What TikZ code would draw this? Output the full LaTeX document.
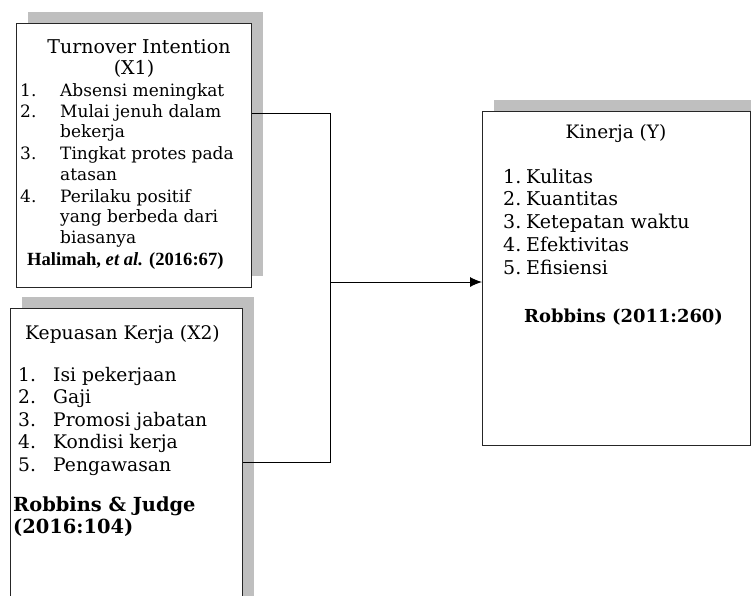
\documentclass[tikz,border=0pt]{standalone}
\usepackage{fontspec}
\setmainfont{DejaVu Serif}
\newfontfamily\reffont{Liberation Serif}
\usetikzlibrary{arrows.meta,shadows}

\tikzset{
	varbox/.style={draw=black!85, fill=white, line width=1pt, inner sep=0pt, anchor=north west,
		general shadow={fill=black!25, shadow xshift=11pt, shadow yshift=12pt}},
	itemtext/.style={anchor=base west, inner sep=0pt, font=\fontsize{#1}{20}\selectfont},
	itemtext/.default=17,
	titletext/.style={anchor=base, inner sep=0pt, font=\fontsize{#1}{20}\selectfont},
	titletext/.default=19,
	boldref/.style={anchor=base west, inner sep=0pt, font=\fontsize{#1}{20}\selectfont\bfseries},
	boldref/.default=18,
	link/.style={black, line width=1pt}
}

\begin{document}
\begin{tikzpicture}[x=1pt,y=-1pt]

	% Frame
	\path[use as bounding box] (0,0) rectangle (751,595);
	\clip (0,0) rectangle (751,595);

	% Boxes
	\node[varbox, minimum width=235pt, minimum height=264pt] (turnover) at (16,23) {};
	\node[varbox, minimum width=232pt, minimum height=320pt] (kepuasan) at (10,308) {};
	\node[varbox, minimum width=268pt, minimum height=334pt] (kinerja) at (482,111) {};

	% Turnover Intention (X1)
	\node[titletext] (t1) at (139,53) {Turnover Intention};
	\node[titletext] (t1b) at (134,74) {(X1)};
	\foreach \n/\y in {1/96, 2/117, 3/159, 4/202}
		\node[itemtext] at (20,\y) {\n.};
	\foreach \t/\y in {Absensi meningkat/96, Mulai jenuh dalam/117, bekerja/137,
		Tingkat protes pada/159, atasan/180, Perilaku positif/202,
		yang berbeda dari/222, biasanya/243}
		\node[itemtext] at (60,\y) {\t};
	\node[anchor=base west, inner sep=0pt, font=\reffont\fontsize{18.6}{20}\selectfont\bfseries]
		(ref1) at (27,265) {Halimah, \textit{et al.} (2016:67)};

	% Kepuasan Kerja (X2)
	\node[itemtext=18.7] (t2) at (25,339) {Kepuasan Kerja (X2)};
	\foreach \n/\t/\y in {1/Isi pekerjaan/381, 2/Gaji/403, 3/Promosi jabatan/426,
		4/Kondisi kerja/448, 5/Pengawasan/471} {
		\node[itemtext=18.7] at (18,\y) {\n.};
		\node[itemtext=18.7] at (53,\y) {\t};
	}
	\node[boldref=19.4] (ref2) at (13,511) {Robbins \& Judge};
	\node[boldref=19.4] (ref2b) at (13,533) {(2016:104)};

	% Kinerja (Y)
	\node[titletext=18.5] (t3) at (616,138) {Kinerja (Y)};
	\foreach \n/\t/\y in {1/Kulitas/183, 2/Kuantitas/205, 3/Ketepatan waktu/228,
		4/Efektivitas/251, 5/Efisiensi/274} {
		\node[itemtext=19] at (503,\y) {\n.};
		\node[itemtext=19] at (526,\y) {\t};
	}
	\node[boldref=17.9] (ref3) at (524,322) {Robbins (2011:260)};

	% Connectors
	\coordinate (j1) at (330,113);
	\coordinate (j2) at (330,462);
	\coordinate (jm) at (330,282);
	\draw[link] (turnover.east |- j1) -- (j1) -- (j2) -- (kepuasan.east |- j2);
	\draw[link, -{Latex[length=12pt,width=10pt]}] (jm) -- (kinerja.west |- jm);

\end{tikzpicture}
\end{document}
